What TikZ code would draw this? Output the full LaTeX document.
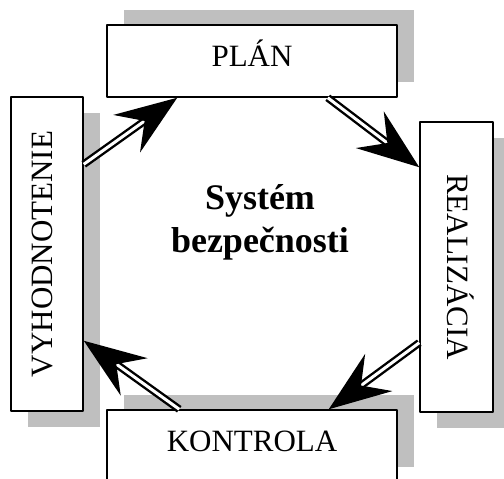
\documentclass[tikz,border=0pt]{standalone}
\usepackage{fontspec}
\setmainfont{Liberation Serif}
\usetikzlibrary{arrows.meta,shadows}
\begin{document}
\begin{tikzpicture}[x=1pt,y=-1pt,line join=round,
		box/.style={draw,line width=1.5pt,fill=white,inner sep=0pt,font=\fontsize{31}{37}\selectfont},
		flat/.style={box,minimum width=290pt,minimum height=72pt,text height=20pt,text depth=9pt},
		shadowup/.style={drop shadow={shadow xshift=17pt,shadow yshift=15pt,opacity=1,fill=black!25}},
		shadowdown/.style={drop shadow={shadow xshift=17pt,shadow yshift=-16pt,opacity=1,fill=black!25}},
		flow/.style={line width=2.4pt,double=white,double distance=3pt,-{Stealth[length=62pt,width=46pt,inset=22pt]}}]
	\def\sidelabel#1#2{\rotatebox{#1}{\rule[-9pt]{0pt}{29pt}#2}}
	\useasboundingbox (0,0) rectangle (504,479);
	\clip (0,0) rectangle (504,479);
	
	\node[flat,shadowup] (plan) at (252,61) {PLÁN};
	\node[box,shadowdown,minimum width=72pt,minimum height=314pt] (vyh) at (47,254) {\sidelabel{90}{VYHODNOTENIE}};
	\node[box,shadowdown,minimum width=73pt,minimum height=290pt] (rea) at (456.5,267) {\sidelabel{-90}{REALIZÁCIA}};
	\node[flat,shadowup] (kon) at (252,446) {KONTROLA};
	\node[font=\fontsize{36}{43}\selectfont\bfseries,align=center] (sys) at (260,222) {Systém\\bezpečnosti};
	
	\draw[flow] ([yshift=-68pt]vyh.north east) -- ([xshift=71pt]plan.south west);
	\draw[flow] ([xshift=-70pt]plan.south east) -- ([yshift=-46pt]rea.north west);
	\draw[flow] ([yshift=70pt]rea.south west) -- ([xshift=-69pt]kon.north east);
	\draw[flow] ([xshift=73pt]kon.north west) -- ([yshift=71pt]vyh.south east);
\end{tikzpicture}
\end{document}
